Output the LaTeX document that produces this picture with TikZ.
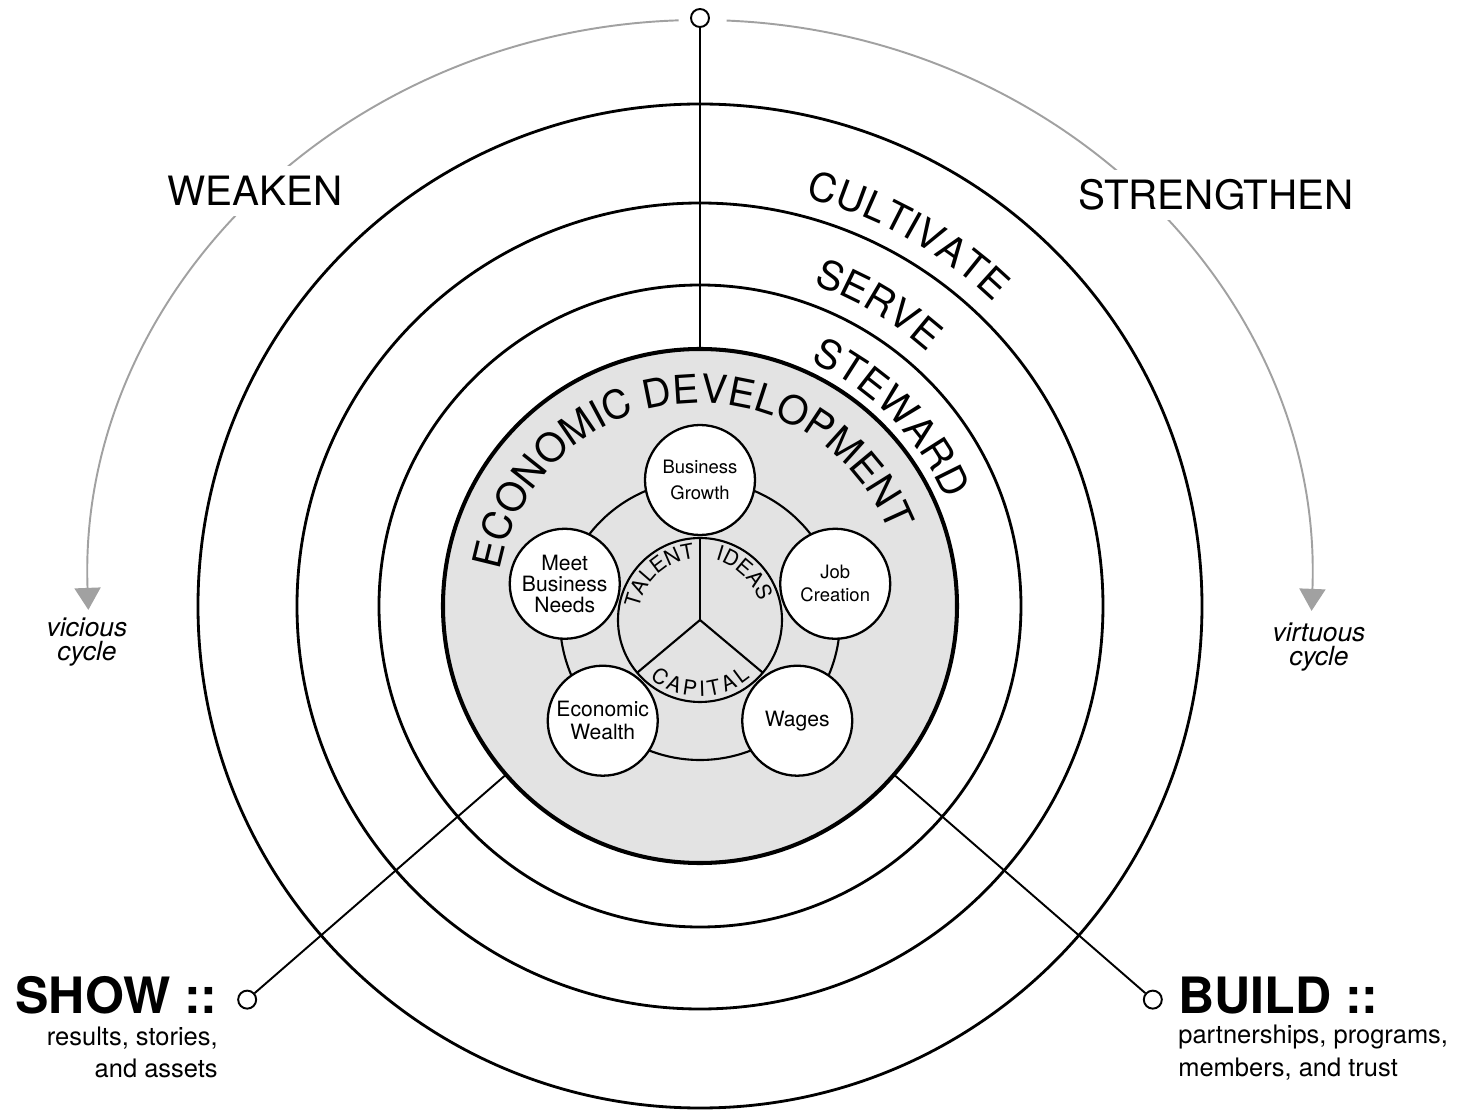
\documentclass[tikz,border=0pt]{standalone}
\usepackage{fontspec}
\setmainfont{TeX Gyre Heros}
\usepackage{tikz}
\usetikzlibrary{arrows.meta,decorations.text,calc}

\newcommand{\bigfont}{\fontsize{22.5}{27}\selectfont}
\newcommand{\keyfont}{\fontsize{12}{13}\selectfont}
\newcommand{\smallkey}{\fontsize{10.5}{13}\selectfont}
\newcommand{\seedfont}{\fontsize{12}{12}\selectfont}
\newcommand{\notefont}{\fontsize{14.5}{18.5}\selectfont}

\begin{document}
\begin{tikzpicture}[
  band/.style={line width=1.6pt},
  lead/.style={line width=1.1pt},
  thin/.style={line width=1.2pt},
  swing/.style={line width=1.1pt, black!37, -{Triangle[width=0.52cm, length=0.44cm]}},
  goal/.style={circle, draw, fill=white, line width=1.3pt, minimum size=2.2cm, inner sep=0pt, align=center, font=\keyfont},
  knob/.style={circle, draw, fill=white, line width=1.1pt, minimum size=0.36cm, inner sep=0pt},
  side/.style={fill=white, inner sep=0.2cm, font={\fontsize{23}{27}\selectfont}},
  tag/.style={align=center, inner sep=0pt, font={\fontsize{15}{14}\selectfont\itshape}},
  head/.style={inner sep=0pt, font={\fontsize{28.5}{30}\selectfont\bfseries}},
  note/.style={inner sep=0pt, font=\notefont},
  curved/.style={decorate, decoration={text along path, text align=center, text={#1}}}
]
\useasboundingbox (-14,-10.22) rectangle (15.2,12.12);

% OUTER BANDS: cultivate, serve, steward
\foreach \r in {10.04,8.06,6.42}
  \draw[band] (0,0) circle (\r);

% CORE DISC
\node[circle, draw, fill=black!11, line width=2.3pt, minimum size=10.28cm, inner sep=0pt, outer sep=0pt] (econ) at (0,0) {};

% GRAY CYCLE ARCS
\coordinate (swirl) at (0,0.32);
\draw[swing] ($(swirl)+(92:12.24 and 11.4)$) arc[start angle=92, end angle=182, x radius=12.24, y radius=11.4];
\draw[swing] ($(swirl)+(87.5:12.24 and 11.4)$) arc[start angle=87.5, end angle=-2.1, x radius=12.24, y radius=11.4];
\node[side] (weaken) at (-8.9,8.3) {WEAKEN};
\node[side] (strengthen) at (10.32,8.22) {STRENGTHEN};
\node[tag] (vicious) at (-12.26,-0.72) {vicious\\cycle};
\node[tag] (virtuous) at (12.38,-0.82) {virtuous\\cycle};

% PINS AND LEADS
\node[knob] (toppin) at (0,11.76) {};
\draw[lead] (toppin) -- (econ.north);
\node[knob] (showpin) at (221:12) {};
\node[knob] (buildpin) at (319:12) {};
\draw[lead] (showpin) -- (econ.221);
\draw[lead] (buildpin) -- (econ.319);

% RING LABELS
\path[curved={|\bigfont|CULTIVATE}] (90.7:8.44) arc[start angle=90.7, end angle=30.7, radius=8.44];
\path[curved={|\bigfont|SERVE}] (89.4:6.82) arc[start angle=89.4, end angle=29.4, radius=6.82];
\path[curved={|\bigfont|STEWARD}] (84.5:5.36) arc[start angle=84.5, end angle=4.5, radius=5.36];
\path[curved={|\bigfont|ECONOMIC DEVELOPMENT}] (180.5:4.06) arc[start angle=180.5, end angle=10.5, radius=4.06];

% INNER WHEEL
\begin{scope}[shift={(0,-0.28)}]
\coordinate (hub) at (0,0);
\draw[thin] (hub) circle (2.8);
\draw[thin] (hub) circle (1.64);
\foreach \a in {90,220,320}
  \draw[thin] (hub) -- (\a:1.64);
\path[curved={|\seedfont|TALENT}] (182:1.24) arc[start angle=182, end angle=82, radius=1.24];
\path[curved={|\seedfont|IDEAS}] (96.5:1.24) arc[start angle=96.5, end angle=-3.5, radius=1.24];
\path[decorate, decoration={text along path, text align=fit to path, text={|\seedfont|CAPITAL}}] (229:1.53) arc[start angle=229, end angle=311, radius=1.53];
\node[goal, font={\fontsize{10.5}{15}\selectfont}] (growth) at (90:2.8) {Business\\Growth};
\node[goal, font=\smallkey] (jobs) at (15:2.8) {Job\\Creation};
\node[goal] (wages) at (-46:2.8) {Wages};
\node[goal] (wealth) at (226:2.8) {Economic\\Wealth};
\node[goal, font={\fontsize{12}{12}\selectfont}] (needs) at (165:2.8) {Meet\\Business\\Needs};
\end{scope}

% SHOW / BUILD
\node[head, anchor=base east] (show) at (-9.64,-8.14) {SHOW ::};
\node[note, anchor=north east, align=right] (showsub) at ([yshift=-0.25cm]show.south east) {results, stories,\\and assets};
\node[head, anchor=base west] (build) at (9.56,-8.14) {BUILD ::};
\node[note, anchor=north west, align=left] (buildsub) at ([yshift=-0.22cm]build.south west) {partnerships, programs,\\members, and trust};
\end{tikzpicture}
\end{document}
